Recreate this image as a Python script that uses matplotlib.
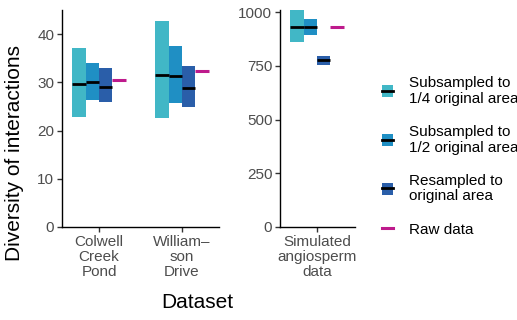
import numpy as np
import matplotlib
matplotlib.use('Agg')
import matplotlib.pyplot as plt
from matplotlib.patches import Patch
from matplotlib.lines import Line2D
from matplotlib.legend_handler import HandlerTuple

plt.rcParams['font.family'] = ['Liberation Sans', 'DejaVu Sans']

# data
left_sets = ['Colwell\nCreek\nPond', 'William\u2013\nson\nDrive']
right_sets = ['Simulated\nangiosperm\ndata']
methods = ['Subsampled to\n1/4 original area', 'Subsampled to\n1/2 original area',
           'Resampled to\noriginal area']
colors = ['#41b7c6', '#1f8fc4', '#2a5ea9']
raw_color = '#be1a8c'

# per method: min / median / max for each dataset
left_lo = [[22.8, 22.7], [26.4, 25.8], [26.0, 24.8]]
left_med = [[29.7, 31.5], [30.1, 31.3], [29.1, 28.9]]
left_hi = [[37.1, 42.7], [34.0, 37.6], [32.9, 33.4]]
left_raw = [30.4, 32.4]

right_lo = [[862], [895], [754]]
right_med = [[930], [930], [777]]
right_hi = [[1010], [969], [797]]
right_raw = [930]

fig = plt.figure(figsize=(5.17, 3.2), dpi=100)
ax1 = fig.add_axes([62 / 517, 93 / 320, 157 / 517, 217 / 320])
ax2 = fig.add_axes([280 / 517, 93 / 320, 75 / 517, 217 / 320])

bw = 0.16
offs = [-0.24, -0.08, 0.08, 0.24]
fs = 11


def draw(ax, names, lo, med, hi, raw):
    x = np.arange(len(names))
    for i in range(3):
        l = np.array(lo[i]); m = np.array(med[i]); h = np.array(hi[i])
        ax.bar(x + offs[i], h - l, bottom=l, width=bw, color=colors[i], linewidth=0)
        ax.hlines(m, x + offs[i] - bw / 2, x + offs[i] + bw / 2, color='black', lw=2)
    ax.hlines(raw, x + offs[3] - bw / 2, x + offs[3] + bw / 2, color=raw_color, lw=2.2)
    ax.set_xticks(x)
    ax.set_xticklabels(names, linespacing=1.1)
    ax.set_xlim(-0.446, len(names) - 1 + 0.446 + (0.012 if len(names) == 1 else 0))
    for s in ['top', 'right']:
        ax.spines[s].set_visible(False)
    for s in ['left', 'bottom']:
        ax.spines[s].set_linewidth(1.0)
    ax.tick_params(axis='both', length=3.5, width=1.0, color='#333333', labelcolor='#4d4d4d',
                   labelsize=fs, pad=2)


draw(ax1, left_sets, left_lo, left_med, left_hi, left_raw)
draw(ax2, right_sets, right_lo, right_med, right_hi, right_raw)
ax1.set_ylim(0, 45)
ax1.set_yticks([0, 10, 20, 30, 40])
ax2.set_ylim(0, 1010)
ax2.set_yticks([0, 250, 500, 750, 1000])

fig.text(15 / 517, 1 - 153 / 320, 'Diversity of interactions', rotation=90,
         ha='center', va='center', fontsize=15)
fig.text(197.5 / 517, 1 - 303 / 320, 'Dataset', ha='center', va='center', fontsize=15)

handles = [(Patch(facecolor=c, linewidth=0), Line2D([], [], color='black', lw=2)) for c in colors]
handles.append(Line2D([], [], color=raw_color, lw=2.2))
labels = methods + ['Raw data']
leg = fig.legend(handles, labels, handler_map={tuple: HandlerTuple(ndivide=1, pad=0)},
                 loc='center left', bbox_to_anchor=(382 / 517, 1 - 156.5 / 320), frameon=False,
                 fontsize=fs, handlelength=0.72, handleheight=0.85, handletextpad=1.05,
                 labelspacing=1.25, borderpad=0, borderaxespad=0)
for t in leg.get_texts():
    t.set_linespacing(1.15)

fig.savefig('out.png', dpi=100)
plt.close(fig)
